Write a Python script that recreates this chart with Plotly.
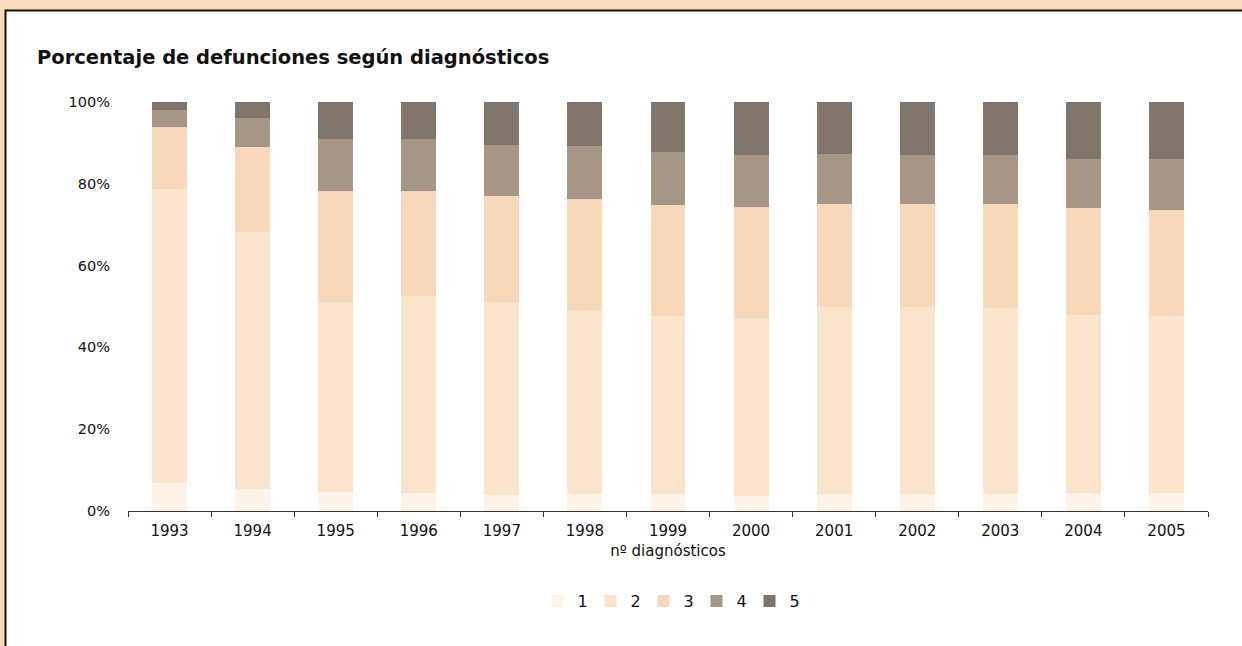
import plotly.graph_objects as go

years = ["1993", "1994", "1995", "1996", "1997", "1998", "1999",
         "2000", "2001", "2002", "2003", "2004", "2005"]
series_names = ["1", "2", "3", "4", "5"]
s1 = [6.8, 5.4, 4.6, 4.4, 3.9, 4.2, 4.2, 3.7, 4.2, 4.2, 4.2, 4.4, 4.4]
s2 = [71.9, 62.8, 46.5, 48.2, 47.2, 44.9, 43.5, 43.5, 45.7, 45.7, 45.4, 43.5, 43.3]
s3 = [15.2, 20.8, 27.1, 25.6, 25.9, 27.2, 27.1, 27.1, 25.2, 25.2, 25.5, 26.2, 25.9]
s4 = [4.1, 7.1, 12.8, 12.8, 12.5, 12.9, 13.0, 12.7, 12.2, 11.9, 11.9, 12.0, 12.5]
s5 = [2.0, 3.9, 9.0, 9.0, 10.5, 10.8, 12.2, 13.0, 12.7, 13.0, 13.0, 13.9, 13.9]
y_ticks = [0, 20, 40, 60, 80, 100]
y_tick_labels = ["0%", "20%", "40%", "60%", "80%", "100%"]

colors = ["#FDF3E8", "#FAE5CC", "#F7D8BB", "#A69685", "#7F756A"]
FONT = "DejaVu Sans, Liberation Sans, Arial, sans-serif"

fig = go.Figure()
for name, vals, col in zip(series_names, [s1, s2, s3, s4, s5], colors):
    fig.add_trace(go.Bar(x=years, y=vals, name=name, marker=dict(color=col, line=dict(width=0))))

W, H = 1242, 646
L, R, T, B = 128, 34, 102, 135
pw, ph = W - L - R, H - T - B

def px_x(px):
    return (px - L) / pw

def px_y(py):
    return (H - B - py) / ph

fig.update_layout(
    width=W, height=H,
    barmode="stack", barnorm="percent", bargap=0.58,
    paper_bgcolor="#F8DABD", plot_bgcolor="rgba(0,0,0,0)",
    margin=dict(l=L, r=R, t=T, b=B, pad=0),
    font=dict(family=FONT, size=14, color="#111111"),
    title=dict(text="<b>Porcentaje de defunciones según diagnósticos</b>",
               x=37 / W, xanchor="left", y=1 - 57 / H, yanchor="middle",
               font=dict(size=19.5, family=FONT, color="#111111")),
    xaxis=dict(type="category", showline=True, linecolor="#333333", linewidth=1,
               ticks="outside", tickson="boundaries", ticklen=5, tickcolor="#333333",
               tickfont=dict(size=15), showgrid=False, ticklabelstandoff=6,
               title=dict(text="nº diagnósticos", font=dict(size=15), standoff=6)),
    yaxis=dict(range=[0, 100], tickvals=y_ticks, ticktext=y_tick_labels,
               showgrid=False, showline=False, zeroline=False, ticks="",
               ticklabelstandoff=17, tickfont=dict(size=14.5)),
    legend=dict(orientation="h", x=px_x(670), xanchor="center", y=px_y(601), yanchor="middle",
                font=dict(size=16), itemwidth=30, entrywidth=8, traceorder="normal",
                bgcolor="rgba(0,0,0,0)"),
    modebar=dict(bgcolor="rgba(0,0,0,0)", color="rgba(0,0,0,0)", activecolor="rgba(0,0,0,0)"),
    shapes=[
        dict(type="rect", xref="paper", yref="paper", layer="below",
             x0=px_x(5.5), x1=px_x(1300), y0=px_y(10.5), y1=px_y(700),
             fillcolor="white", line=dict(color="#111111", width=2)),
    ],
)

fig.write_html("out.html", config={"displayModeBar": False},
               post_script="document.body.style.margin='0px';document.body.style.overflow='hidden';")
